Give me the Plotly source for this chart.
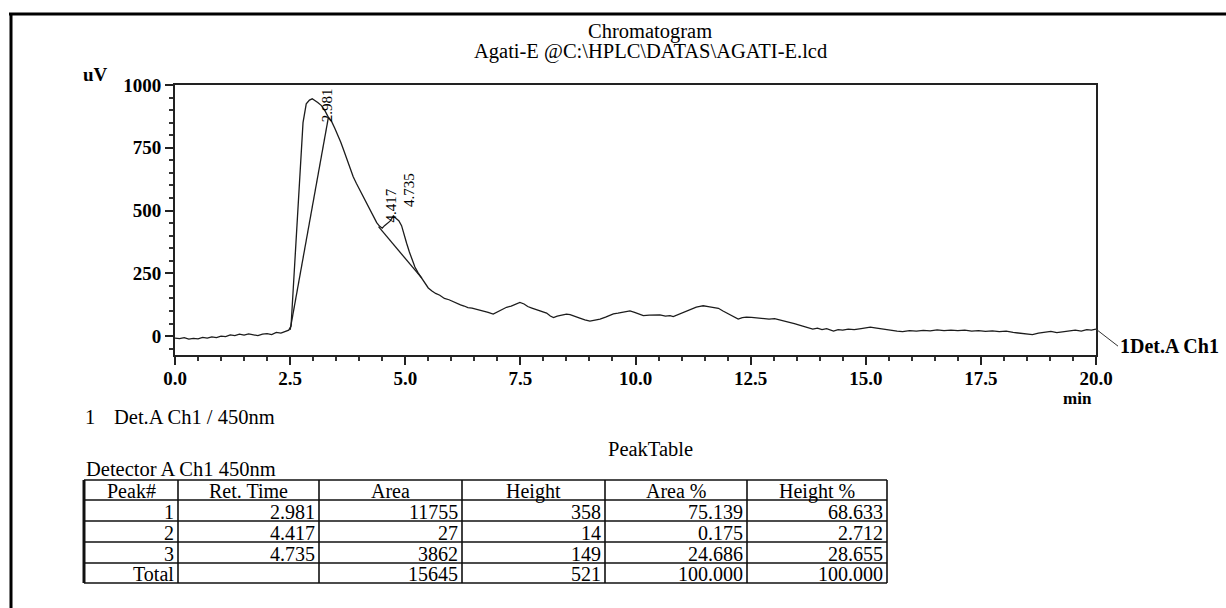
import plotly.graph_objects as go

# ---------------- data ----------------
time_min = [0.00,0.10,0.20,0.30,0.40,0.50,0.60,0.70,0.80,0.90,1.00,1.10,1.20,1.30,1.40,1.50,1.60,1.70,1.80,1.90,
            2.00,2.10,2.20,2.30,2.40,2.47,2.52,2.60,2.70,2.78,2.85,2.92,2.98,3.04,3.10,3.18,3.25,3.32,3.40,3.47,
            3.54,3.60,3.66,3.72,3.80,3.87,3.94,4.02,4.10,4.18,4.25,4.31,4.38,4.44,4.50,4.55,4.60,4.67,4.74,4.80,
            4.86,4.92,4.97,5.03,5.09,5.15,5.21,5.28,5.35,5.42,5.50,5.58,5.66,5.75,5.85,5.95,6.04,6.12,6.20,6.28,
            6.36,6.45,6.55,6.62,6.70,6.80,6.91,7.00,7.10,7.20,7.30,7.40,7.49,7.58,7.66,7.75,7.85,7.95,8.07,8.15,
            8.22,8.30,8.40,8.50,8.58,8.68,8.79,8.90,9.01,9.12,9.23,9.35,9.45,9.52,9.62,9.75,9.88,9.98,10.08,10.17,
            10.30,10.42,10.53,10.65,10.75,10.82,10.92,11.02,11.11,11.22,11.32,11.40,11.47,11.58,11.70,11.80,11.90,12.00,12.05,12.15,
            12.23,12.32,12.41,12.52,12.65,12.78,12.90,13.02,13.14,13.25,13.35,13.45,13.54,13.65,13.75,13.85,13.95,14.05,14.15,14.30,
            14.40,14.50,14.62,14.75,14.90,15.00,15.10,15.20,15.30,15.40,15.55,15.68,15.80,15.95,16.10,16.25,16.40,16.55,16.70,16.85,
            17.00,17.15,17.30,17.45,17.60,17.75,17.90,18.05,18.20,18.35,18.50,18.62,18.75,18.90,19.02,19.15,19.30,19.42,19.55,19.68,
            19.80,19.90,20.00]
signal_uv = [-8,-10,-6,-12,-9,-11,-5,-8,-3,-6,0,-2,5,2,8,4,9,6,2,8,
             10,6,15,12,20,24,40,300,620,850,925,940,945,938,930,918,900,875,855,828,
             800,772,742,712,665,635,608,580,552,522,497,476,452,438,430,440,448,458,478,470,
             460,440,405,370,335,300,275,252,232,215,192,180,170,163,150,145,137,130,125,120,
             114,112,108,105,100,95,88,96,104,115,120,128,134,128,118,112,105,98,92,80,
             74,80,85,88,86,78,72,65,60,64,68,76,84,89,92,97,101,95,88,82,
             84,86,85,80,82,78,86,92,98,108,116,119,121,118,115,111,100,90,85,74,
             68,74,76,75,73,72,68,70,65,60,55,50,45,38,34,28,32,26,30,20,
             26,24,28,26,30,33,36,33,30,28,24,20,18,22,20,23,21,25,22,24,
             22,24,20,22,19,21,18,20,15,12,8,6,12,16,19,14,17,22,24,20,
             26,24,28]

# integration baselines drawn by the software
baseline1_t = [2.50, 3.33]
baseline1_v = [25, 870]
baseline2_t = [4.42, 5.36]
baseline2_v = [436, 231]

# peak labels
peak_rt = [2.981, 4.417, 4.735]
peak_label_y = [920, 522, 582]

x_ticks = [0.0, 2.5, 5.0, 7.5, 10.0, 12.5, 15.0, 17.5, 20.0]
y_ticks = [0, 250, 500, 750, 1000]

# peak table
tbl_header = ["Peak#", "Ret. Time", "Area", "Height", "Area %", "Height %"]
tbl_peak = ["1", "2", "3", "Total"]
tbl_ret = ["2.981", "4.417", "4.735", ""]
tbl_area = ["11755", "27", "3862", "15645"]
tbl_height = ["358", "14", "149", "521"]
tbl_area_pct = ["75.139", "0.175", "24.686", "100.000"]
tbl_height_pct = ["68.633", "2.712", "28.655", "100.000"]
tbl_columns = [tbl_peak, tbl_ret, tbl_area, tbl_height, tbl_area_pct, tbl_height_pct]

# ---------------- layout helpers ----------------
W, H = 1226, 608
FONT = "Liberation Serif"
def px(x):
    return x / W
def py(y):
    return 1 - y / H

fig = go.Figure()
line_style = dict(color="#1c1c1c", width=1.3)
fig.add_trace(go.Scatter(x=time_min, y=signal_uv, mode="lines", line=line_style, hoverinfo="skip"))
fig.add_trace(go.Scatter(x=baseline1_t, y=baseline1_v, mode="lines", line=line_style, hoverinfo="skip"))
fig.add_trace(go.Scatter(x=baseline2_t, y=baseline2_v, mode="lines", line=line_style, hoverinfo="skip"))

tickfont = dict(family=FONT, size=19, color="black", weight="bold")
fig.update_layout(
    width=W, height=H, autosize=False,
    margin=dict(l=0, r=0, t=0, b=0),
    paper_bgcolor="white", plot_bgcolor="white",
    showlegend=False,
    xaxis=dict(domain=[px(175), px(1096)], range=[0, 20], tickvals=x_ticks, tickformat=".1f",
               ticks="outside", ticklen=8, tickwidth=1.5, tickcolor="#222", ticklabelstandoff=-3,
               minor=dict(dtick=0.5, tick0=0, ticks="outside", ticklen=4, tickwidth=1.5, tickcolor="#333"),
               showline=True, linecolor="#222", linewidth=2, mirror=True,
               showgrid=False, zeroline=False, tickfont=tickfont, automargin=False),
    yaxis=dict(domain=[py(355), py(85)], range=[-75, 1000], tickvals=y_ticks,
               ticks="outside", ticklen=8, tickwidth=1.5, tickcolor="#222",
               minor=dict(dtick=50, tick0=0, ticks="outside", ticklen=4, tickwidth=1.5, tickcolor="#333"),
               showline=True, linecolor="#222", linewidth=2, mirror=True,
               showgrid=False, zeroline=False, tickfont=tickfont, automargin=False),
)

ann = []
def txt(x, y, s, size=20.5, bold=False, xanchor="center"):
    ann.append(dict(x=px(x), y=py(y), xref="paper", yref="paper", text=s, showarrow=False,
                    xanchor=xanchor, yanchor="middle",
                    font=dict(family=FONT, size=size, color="black", weight="bold" if bold else "normal")))

txt(650, 31, "Chromatogram")
txt(650, 52, "Agati-E @C:\\HPLC\\DATAS\\AGATI-E.lcd")
txt(96, 75, "uV", size=19, bold=True)
txt(1077, 398, "min", size=17, bold=True)
txt(90, 417, "1")
txt(112, 417, "Det.A Ch1 / 450nm", xanchor="left")
txt(650, 449, "PeakTable")
txt(84, 469, "Detector A Ch1 450nm", xanchor="left")

for rt, ly, shift in zip(peak_rt, peak_label_y, [15, 13, 16]):
    ann.append(dict(x=rt, y=ly, xref="x", yref="y", text=f"{rt:.3f}", showarrow=False,
                    textangle=-90, xanchor="center", yanchor="middle", xshift=shift,
                    font=dict(family=FONT, size=15, color="black")))

ann.append(dict(x=time_min[-1], y=signal_uv[-1], xref="x", yref="y", text="1Det.A Ch1",
                showarrow=True, arrowhead=0, arrowwidth=1, arrowcolor="#333",
                ax=22, ay=17, xanchor="left", yanchor="middle",
                font=dict(family=FONT, size=20, color="black", weight="bold")))

# ---------------- peak table (grid + text) ----------------
col_edges = [84, 178, 319, 462, 605, 747, 887]
row_edges = [480, 500, 521, 542, 563, 583]
shapes = []
for i, xe in enumerate(col_edges):
    shapes.append(dict(type="line", xref="paper", yref="paper", x0=px(xe), x1=px(xe),
                       y0=py(row_edges[0]), y1=py(row_edges[-1]),
                       line=dict(color="#111", width=3 if i == 0 else 1.6)))
for ye in row_edges:
    shapes.append(dict(type="line", xref="paper", yref="paper", x0=px(col_edges[0]), x1=px(col_edges[-1]),
                       y0=py(ye), y1=py(ye), line=dict(color="#111", width=1.6)))
for c, head in enumerate(tbl_header):
    txt((col_edges[c] + col_edges[c + 1]) / 2, (row_edges[0] + row_edges[1]) / 2 + 1, head, size=20)
for c, col in enumerate(tbl_columns):
    for r, val in enumerate(col):
        if val:
            ann.append(dict(x=px(col_edges[c + 1] - 2), y=py((row_edges[r + 1] + row_edges[r + 2]) / 2 + 1),
                            xref="paper", yref="paper", text=val, showarrow=False,
                            xanchor="right", yanchor="middle",
                            font=dict(family=FONT, size=20, color="black")))

# outer frame of the report page
shapes += [
    dict(type="line", xref="paper", yref="paper", x0=px(9), x1=1, y0=py(14), y1=py(14),
         line=dict(color="black", width=3)),
    dict(type="line", xref="paper", yref="paper", x0=px(11), x1=px(11), y0=py(13), y1=0,
         line=dict(color="black", width=3)),
]
fig.update_layout(annotations=ann, shapes=shapes)

fig.write_html("out.html")
